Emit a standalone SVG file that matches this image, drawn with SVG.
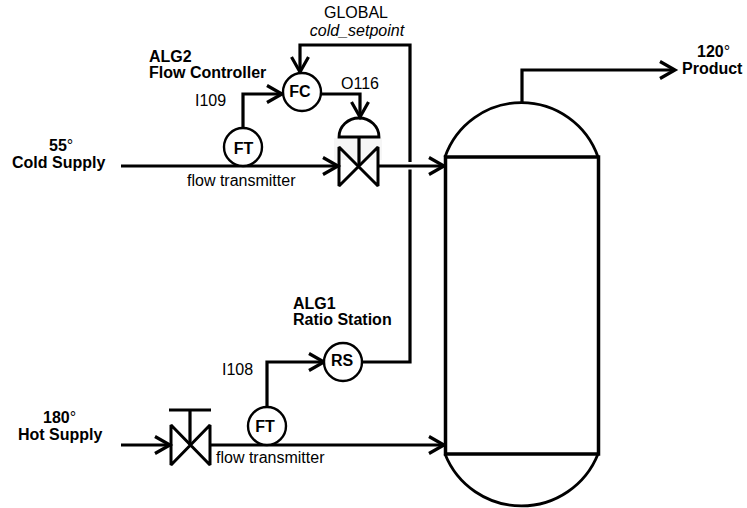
<svg xmlns="http://www.w3.org/2000/svg" width="747" height="508" viewBox="0 0 747 508">
<style>
text{font-family:"Liberation Sans",Arial,sans-serif;font-size:16px;fill:#000}
.b{font-weight:bold}
.m{text-anchor:middle}
.i{font-style:italic}
.d{font-weight:normal}
.l{fill:none;stroke:#000;stroke-width:3.2}
.v{fill:none;stroke:#000;stroke-width:3;stroke-linejoin:bevel}
.t{fill:none;stroke:#000;stroke-width:2.8}
.c{fill:#fff;stroke:#000;stroke-width:2.4}
</style>
<defs>
<marker id="a" markerUnits="userSpaceOnUse" markerWidth="24" markerHeight="24" refX="16" refY="10" orient="auto" overflow="visible">
<path d="M1 1.500L16 10L1 18.500" fill="none" stroke="#000" stroke-width="3.2"/>
</marker>
</defs>
<g id="connectors">
<path class="l" d="M121 166H338" marker-end="url(#a)"/>
<path class="l" d="M378 166H444" marker-end="url(#a)"/>
<path class="l" d="M243 128V94H282" marker-end="url(#a)"/>
<path class="l" d="M321 94H360V117" marker-end="url(#a)"/>
<path class="l" d="M121 445H170" marker-end="url(#a)"/>
<path class="l" d="M211 445H444" marker-end="url(#a)"/>
<path class="l" d="M267 407V362H324" marker-end="url(#a)"/>
<path class="l" d="M522 103V70H675" marker-end="url(#a)"/>
<path class="l" d="M362 362H410V169.500"/>
<path class="l" d="M410 162V45H300V72" marker-end="url(#a)"/>
</g>
<g id="vessel">
<path class="t" d="M445 157A81 81 0 0 1 598 157M445 454A82.300 82.300 0 0 0 598 454"/>
<rect x="445.500" y="157" width="153" height="297" fill="#fff" stroke="#000" stroke-width="3.500"/>
</g>
<g id="cold-valve">
<rect x="334" y="138" width="48" height="22" fill="#f6f6f6"/>
<path class="v" d="M339 147L378 186V147L339 186Z"/>
<path class="l" d="M359 137V166"/>
<path class="t" d="M339 137A20 19 0 0 1 379 137Z"/>
</g>
<g id="hot-valve">
<path class="v" d="M171 425L210 465V425L171 465Z"/>
<path class="l" d="M190 410V445M169 410H211"/>
</g>
<g id="ft1"><circle class="c" cx="243" cy="147" r="19"/><text class="b m" x="243.500" y="154">FT</text></g>
<g id="fc"><circle class="c" cx="302" cy="92" r="19"/><text class="b m" x="300" y="97">FC</text></g>
<g id="ft2"><circle class="c" cx="267" cy="426" r="19"/><text class="b m" x="265" y="432">FT</text></g>
<g id="rs"><circle class="c" cx="343" cy="362" r="19"/><text class="b m" x="342" y="366">RS</text></g>
<g id="labels">
<text class="m" x="356" y="18">GLOBAL</text>
<text class="m i" x="357" y="36">cold_setpoint</text>
<text class="b" x="149" y="62">ALG2</text>
<text class="b" x="149" y="78">Flow Controller</text>
<text x="195" y="106">I109</text>
<text x="341" y="89">O116</text>
<text x="187" y="186">flow transmitter</text>
<text class="b" x="49" y="151">55<tspan class="d">°</tspan></text>
<text class="b" x="12" y="168">Cold Supply</text>
<text class="b" x="293" y="309">ALG1</text>
<text class="b" x="293" y="325">Ratio Station</text>
<text x="222" y="375">I108</text>
<text x="216" y="463">flow transmitter</text>
<text class="b" x="43" y="423">180<tspan class="d">°</tspan></text>
<text class="b" x="18" y="440">Hot Supply</text>
<text class="b" x="697" y="57">120<tspan class="d">°</tspan></text>
<text class="b" x="682" y="74">Product</text>
</g>
</svg>
